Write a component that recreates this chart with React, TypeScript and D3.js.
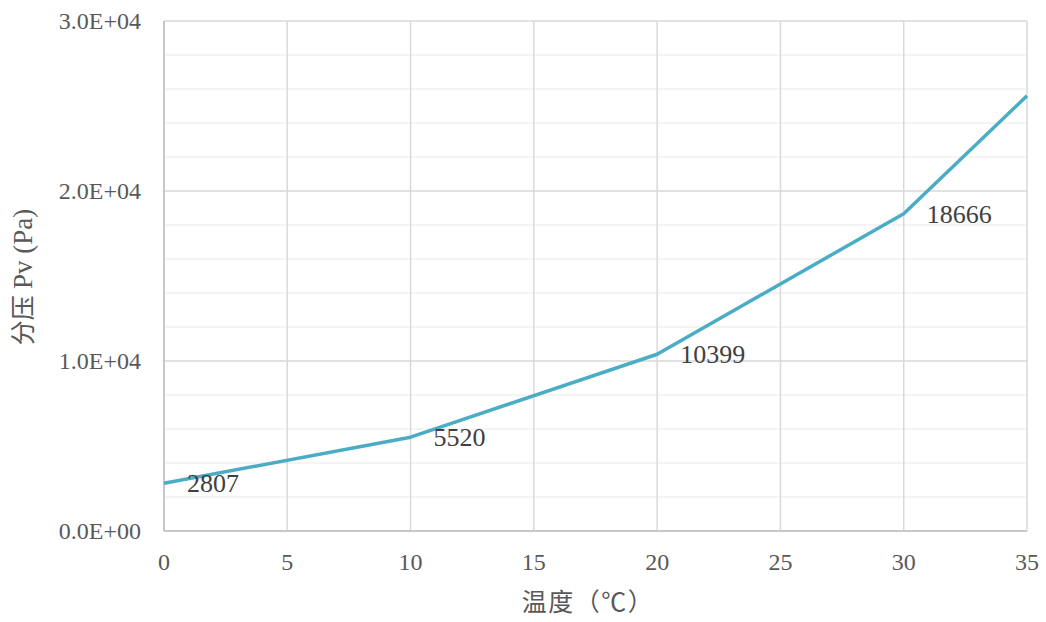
import React from "react";
import * as d3 from "d3";

const temps = [0, 10, 20, 30, 35];
const pressures = [2807, 5520, 10399, 18666, 25600];
const labelled = [true, true, true, true, false];
const xTicks = [0, 5, 10, 15, 20, 25, 30, 35];
const yMajor = [0, 10000, 20000, 30000];
const yMinor = d3.range(0, 30001, 2000);
const yTickLabels = ["0.0E+00", "1.0E+04", "2.0E+04", "3.0E+04"];

const W = 1046, H = 622;
const M = { left: 164, right: 1027, top: 21, bottom: 531 };
const serif = "'Liberation Serif', 'Noto Sans CJK SC', serif";

export default function App() {
  const x = d3.scaleLinear().domain([0, 35]).range([M.left, M.right]);
  const y = d3.scaleLinear().domain([0, 30000]).range([M.bottom, M.top]);
  const line = d3.line<number>().x((_, i) => x(temps[i])).y((d) => y(d));
  return (
    <svg width={W} height={H} style={{ position: "absolute", left: 0, top: 0 }}>
      <rect width={W} height={H} fill="#fff" />
      {yMinor.filter((v) => !yMajor.includes(v)).map((v) => (
        <line key={"m" + v} x1={M.left} x2={M.right} y1={y(v)} y2={y(v)} stroke="#f0f0f0" strokeWidth={1.5} />
      ))}
      {yMajor.map((v) => (
        <line key={"M" + v} x1={M.left} x2={M.right} y1={y(v)} y2={y(v)} stroke="#d9d9d9" strokeWidth={1.5} />
      ))}
      {xTicks.map((v) => (
        <line key={"x" + v} x1={x(v)} x2={x(v)} y1={M.top} y2={M.bottom} stroke="#d9d9d9" strokeWidth={1.5} />
      ))}
      <line x1={M.left} x2={M.right} y1={M.bottom} y2={M.bottom} stroke="#bfbfbf" strokeWidth={1.5} />
      <line x1={M.left} x2={M.left} y1={M.top} y2={M.bottom} stroke="#bfbfbf" strokeWidth={1.5} />
      <path d={line(pressures) || ""} fill="none" stroke="#4aacc5" strokeWidth={3.5} strokeLinejoin="round" />
      {pressures.map((p, i) =>
        labelled[i] ? (
          <text key={"l" + i} x={x(temps[i]) + 23} y={y(p) + 9} fontFamily={serif} fontSize={26} fill="#404040">
            {p}
          </text>
        ) : null
      )}
      {yMajor.map((v, i) => (
        <text key={"yt" + v} x={141} y={y(v) + 7.5} textAnchor="end" fontFamily={serif} fontSize={24} fill="#595959">
          {yTickLabels[i]}
        </text>
      ))}
      {xTicks.map((v) => (
        <text key={"xt" + v} x={x(v)} y={570} textAnchor="middle" fontFamily={serif} fontSize={24} fill="#595959">
          {v}
        </text>
      ))}
      <text x={588} y={611} textAnchor="middle" fontFamily={serif} fontSize={25} letterSpacing={1.5} fill="#595959">
        温度（℃）
      </text>
      <text transform="translate(32,277) rotate(-90)" textAnchor="middle" fontFamily={serif} fontSize={25} fill="#595959">
        <tspan>分压 </tspan>
        <tspan fontSize={27}>Pv (Pa)</tspan>
      </text>
    </svg>
  );
}
